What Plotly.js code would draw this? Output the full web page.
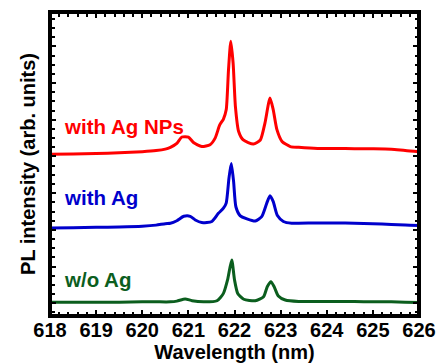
<!DOCTYPE html>
<html>
<head>
<meta charset="utf-8">
<script src="https://cdn.plot.ly/plotly-3.0.1.min.js"></script>
<style>html,body{margin:0;padding:0;background:#fff;}#chart{width:438px;height:363px;}</style>
</head>
<body>
<div id="chart"></div>
<script>
// Wavelength (nm) and offset PL intensity (arb. units)
const redX = [618.00, 618.50, 619.00, 619.50, 620.00, 620.30, 620.50, 620.61, 620.75, 620.86, 621.00, 621.11, 621.29, 621.47, 621.58, 621.68, 621.76, 621.82, 621.87, 621.92, 621.97, 622.02, 622.09, 622.19, 622.41, 622.56, 622.66, 622.77, 622.84, 622.92, 623.03, 623.21, 623.39, 623.80, 624.20, 624.60, 625.00, 625.40, 625.70, 626.00];
const redY = [4.06, 4.07, 4.08, 4.10, 4.13, 4.16, 4.20, 4.25, 4.36, 4.53, 4.53, 4.38, 4.27, 4.32, 4.50, 4.86, 5.02, 5.27, 6.36, 7.14, 6.54, 5.36, 4.68, 4.45, 4.34, 4.45, 4.91, 5.59, 5.27, 4.73, 4.41, 4.27, 4.25, 4.22, 4.22, 4.21, 4.21, 4.20, 4.16, 4.13];

const blueX = [618.00, 618.50, 619.00, 619.50, 620.00, 620.30, 620.50, 620.61, 620.75, 620.90, 621.04, 621.15, 621.29, 621.51, 621.65, 621.76, 621.82, 621.88, 621.93, 621.98, 622.03, 622.12, 622.27, 622.45, 622.59, 622.70, 622.77, 622.84, 622.93, 623.06, 623.24, 623.39, 623.80, 624.20, 624.60, 625.00, 625.40, 625.70, 626.00];
const blueY = [2.05, 2.06, 2.07, 2.08, 2.10, 2.13, 2.17, 2.18, 2.25, 2.37, 2.37, 2.27, 2.20, 2.23, 2.45, 2.59, 2.73, 3.41, 3.81, 3.32, 2.63, 2.39, 2.30, 2.24, 2.36, 2.73, 2.93, 2.77, 2.39, 2.23, 2.18, 2.18, 2.19, 2.19, 2.18, 2.17, 2.15, 2.13, 2.12];

const greenX = [618.00, 618.50, 619.00, 619.50, 620.00, 620.30, 620.61, 620.75, 620.93, 621.08, 621.33, 621.62, 621.76, 621.85, 621.94, 622.00, 622.07, 622.20, 622.45, 622.63, 622.71, 622.79, 622.86, 622.95, 623.10, 623.39, 623.80, 624.20, 624.60, 625.00, 625.40, 625.70, 626.00];
const greenY = [0.03, 0.03, 0.03, 0.03, 0.04, 0.04, 0.04, 0.06, 0.12, 0.07, 0.04, 0.07, 0.27, 0.64, 1.18, 0.64, 0.27, 0.11, 0.07, 0.18, 0.45, 0.59, 0.45, 0.20, 0.09, 0.05, 0.05, 0.05, 0.05, 0.04, 0.04, 0.03, 0.02];

const seriesNames = ['with Ag NPs', 'with Ag', 'w/o Ag'];
const seriesColors = ['#ff0000', '#0000cc', '#0b5e1e'];
const labelY = [4.82, 2.87, 0.66];
const xTickVals = [618, 619, 620, 621, 622, 623, 624, 625, 626];

const FONT = 'Liberation Sans, Arial, Helvetica, sans-serif';
const xs = [redX, blueX, greenX];
const ys = [redY, blueY, greenY];

const traces = xs.map((x, i) => ({
  x: x, y: ys[i], type: 'scatter', mode: 'lines', name: seriesNames[i],
  line: {color: seriesColors[i], width: 3, shape: 'spline', smoothing: 0.6},
  hoverinfo: 'skip'
}));

const annotations = seriesNames.map((t, i) => ({
  text: '<b>' + t + '</b>', x: 618.27, y: labelY[i], xref: 'x', yref: 'y',
  xanchor: 'left', yanchor: 'middle', showarrow: false,
  font: {family: FONT, size: 20.5, color: seriesColors[i], weight: 700}
}));

const layout = {
  width: 438, height: 363,
  margin: {l: 50, r: 19, t: 12, b: 47, pad: 0},
  paper_bgcolor: '#fff', plot_bgcolor: '#fff',
  showlegend: false,
  font: {family: FONT, color: '#000'},
  xaxis: {
    range: [618, 626], tickvals: xTickVals, ticktext: xTickVals.map(v => '<b>' + v + '</b>'),
    ticks: 'inside', ticklen: 6, tickwidth: 2, tickcolor: '#000', mirror: 'ticks',
    showline: false, showgrid: false, zeroline: false,
    minor: {dtick: 0.2, tick0: 618, ticks: 'inside', ticklen: 4.5, tickwidth: 2, tickcolor: '#000', showgrid: false},
    tickfont: {family: FONT, size: 20, color: '#000', weight: 700},
    title: {text: '<b>Wavelength (nm)</b>', font: {family: FONT, size: 20, color: '#000', weight: 700}, standoff: 4}
  },
  yaxis: {
    range: [-0.346, 7.936], dtick: 1, tick0: 0,
    ticks: 'inside', ticklen: 6, tickwidth: 2, tickcolor: '#000', mirror: 'ticks',
    showline: false, showgrid: false, zeroline: false, showticklabels: false,
    minor: {dtick: 0.25, tick0: 0, ticks: 'inside', ticklen: 4.5, tickwidth: 2, tickcolor: '#000', showgrid: false},
    title: {text: '<b>PL intensity (arb. units)</b>', font: {family: FONT, size: 20, color: '#000', weight: 700}, standoff: 8}
  },
  shapes: [{type: 'rect', xref: 'paper', yref: 'paper', x0: 0, x1: 1, y0: 0, y1: 1,
    line: {color: '#000', width: 4}, layer: 'above'}],
  annotations: annotations
};

Plotly.newPlot('chart', traces, layout, {staticPlot: true, displayModeBar: false});
</script>
</body>
</html>
